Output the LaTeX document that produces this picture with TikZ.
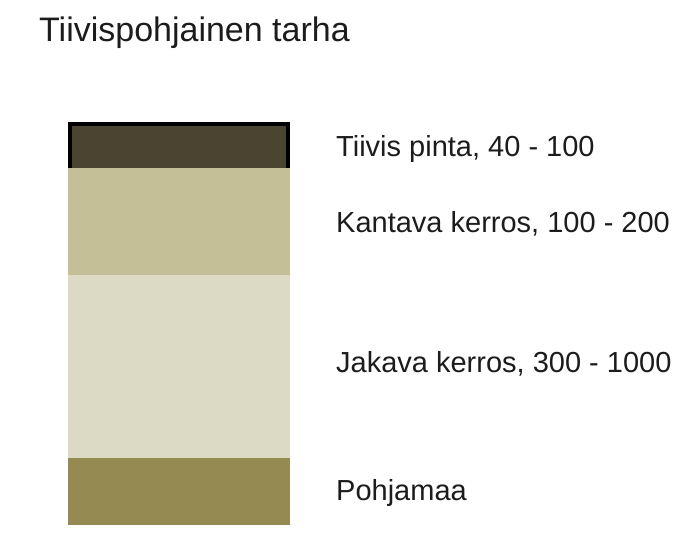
\documentclass[tikz,border=0pt]{standalone}
\usepackage{fontspec}
\setmainfont{Liberation Sans}
\definecolor{pinta}{HTML}{4A4530}
\definecolor{kantava}{HTML}{C5BF98}
\definecolor{jakava}{HTML}{DCDAC4}
\definecolor{pohja}{HTML}{958A51}
\definecolor{teksti}{HTML}{1C1C1C}
\begin{document}
\begin{tikzpicture}
  [x=1pt,y=-1pt,every node/.style={inner sep=0pt},
   layer/.style={rectangle,minimum width=222pt},
   label/.style={anchor=base west,text=teksti,font=\fontsize{29}{34}\selectfont}]
  \useasboundingbox (0,0) rectangle (699,559);
  \node (title)[anchor=base west,text=teksti,font=\fontsize{34}{40}\selectfont] at (39,42) {Tiivispohjainen tarha};

  \node (l1)[layer,fill=pinta,minimum height=46pt] at (179,145) {};
  \node (l2)[layer,fill=kantava,minimum height=107pt] at (179,221.5) {};
  \node (l3)[layer,fill=jakava,minimum height=183pt] at (179,366.5) {};
  \node (l4)[layer,fill=pohja,minimum height=67pt] at (179,491.5) {};
  \draw[line width=4pt,black] ([xshift=2pt]l1.south west) |- ([yshift=-2pt]l1.north)
    -| ([xshift=-2pt]l1.south east);

  \node (t1)[label] at (336,157) {Tiivis pinta, 40 - 100};
  \node (t2)[label] at (336,232) {Kantava kerros, 100 - 200};
  \node (t3)[label] at (336,372) {Jakava kerros, 300 - 1000};
  \node (t4)[label] at (336,500) {Pohjamaa};
\end{tikzpicture}
\end{document}
